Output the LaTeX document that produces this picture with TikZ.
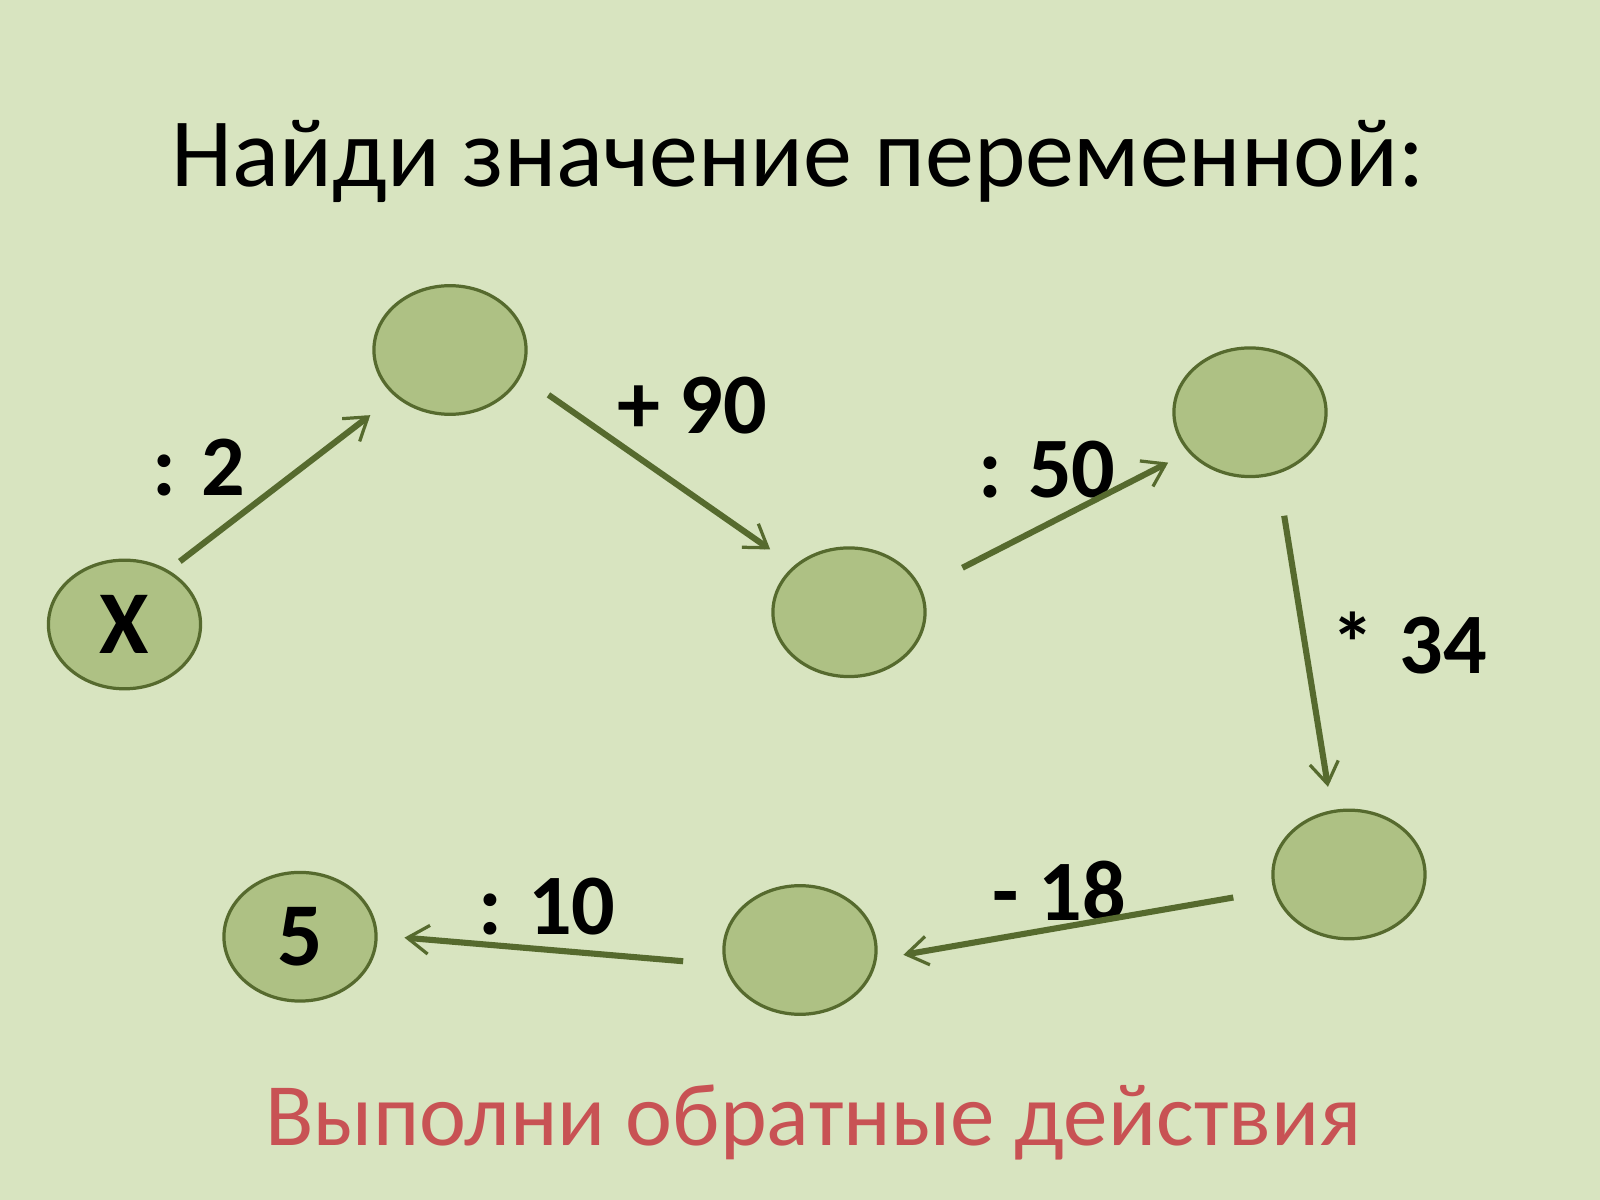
\documentclass[tikz,border=0pt]{standalone}
\usepackage{fontspec}
\setmainfont{Carlito}
\usetikzlibrary{shapes.geometric,arrows.meta}
\definecolor{bggreen}{RGB}{216,228,192}
\definecolor{fillgreen}{RGB}{174,193,132}
\definecolor{olive}{RGB}{86,106,46}
\definecolor{hintred}{RGB}{200,82,84}

\begin{document}
\begin{tikzpicture}[x=0.01cm, y=-0.01cm,
    vertex/.style={draw=olive, line width=0.9pt, fill=fillgreen, ellipse, minimum width=1.49cm, minimum height=1.26cm, inner sep=0pt, font=\fontsize{25}{29}\selectfont\bfseries},
    arr/.style={draw=olive, line width=1.7pt, -{Straight Barb[length=6pt,width=8pt,line width=0.9pt]}},
    op/.style={anchor=base, font=\fontsize{24}{28}\selectfont\bfseries}]
    \fill[bggreen] (0,0) rectangle (1568,1176);
    \useasboundingbox (0,0) rectangle (1568,1176);

    \node[anchor=base] (title) at (782,183) {\fontsize{27.3}{32}\selectfont Найди значение переменной:};
    \node[anchor=base, text=hintred] (hint) at (797,1123) {\fontsize{24.8}{29}\selectfont Выполни обратные действия};

    \node[vertex] (start) at (122,612) {X};
    \node[vertex] (vone) at (441,343) {};
    \node[vertex] (vtwo) at (832,600) {};
    \node[vertex] (vthree) at (1225,404) {};
    \node[vertex] (vfour) at (1322,857) {};
    \node[vertex] (vfive) at (784,931) {};
    \node[vertex] (finish) at (294,918) {5};

    \node[op] (opone) at (195,486) {: 2};
    \node[op] (optwo) at (678,425) {+ 90};
    \node[op] (opthree) at (1026,488) {: 50};
    \node[op] (opfour) at (1381,660) {*\hspace{0.3em}34};
    \node[op] (opfive) at (1038,902) {- 18};
    \node[op] (opsix) at (536,916) {: 10};

    \draw[arr, shorten <=4pt, shorten >=8.6pt] (start.51) -- (vone.220);
    \draw[arr, shorten <=9.2pt, shorten >=8pt] (vone.340) -- (vtwo.140.4);
    \draw[arr, shorten <=12.8pt, shorten >=6.3pt] (vtwo.18.3) -- (vthree.213.5);
    \draw[arr, shorten <=11.8pt, shorten >=6.6pt] (vthree.294) -- (vfour.105.7);
    \draw[arr, shorten <=11.4pt, shorten >=7.5pt] (vfour.192.7) -- (vfive.353.7);
    \draw[arr, shorten <=11.5pt, shorten >=7.5pt] (vfive.191.6) -- (finish.1.1);
  \end{tikzpicture}
\end{document}
